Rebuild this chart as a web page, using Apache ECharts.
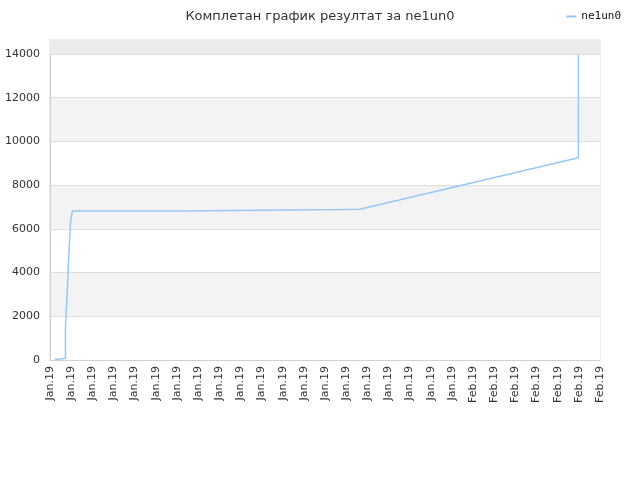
<!DOCTYPE html>
<html lang="sr">
<head>
    <meta charset="utf-8">
    <title>Комплетан график</title>
    <script src="https://cdn.jsdelivr.net/npm/echarts@6/dist/echarts.min.js"></script>
</head>
<body style="margin:0">
    <div id="chart" style="width:640px;height:480px"></div>
    <script type="text/javascript">
        // x labels (one per tick)
        var dayLabels = [
            'Jan.19', 'Jan.19', 'Jan.19', 'Jan.19', 'Jan.19', 'Jan.19', 'Jan.19',
            'Jan.19', 'Jan.19', 'Jan.19', 'Jan.19', 'Jan.19', 'Jan.19', 'Jan.19',
            'Jan.19', 'Jan.19', 'Jan.19', 'Jan.19', 'Jan.19', 'Jan.19',
            'Feb.19', 'Feb.19', 'Feb.19', 'Feb.19', 'Feb.19', 'Feb.19', 'Feb.19'
        ];
        // position along the x axis (in tick units) and score there;
        // repeated positions are the vertical jumps
        var pointPos = [0.24, 0.47, 0.47, 0.73, 0.73, 0.78, 0.78, 0.83, 0.83, 0.87, 0.87,
            0.92, 0.92, 0.97, 0.97, 1.06, 1.06, 6.18, 6.18, 13.84, 13.84, 14.65, 14.65,
            24.98, 24.98];
        var scores = [30, 30, 80, 80, 1460, 1460, 2430, 2430, 3430, 3430, 4440,
            4440, 5350, 5350, 6310, 6310, 6820, 6820, 6880, 6880, 6900, 6900, 6990,
            9250, 13950];

        var seriesData = [];
        for (var i = 0; i < pointPos.length; i++) {
            seriesData.push([pointPos[i], scores[i]]);
        }

        var myChart = echarts.init(document.getElementById('chart'));
        var option = {
            animation: false,
            title: {
                text: 'Комплетан график резултат за ne1un0',
                left: 'center',
                top: 5,
                textStyle: {
                    fontFamily: 'DejaVu Sans',
                    fontSize: 13,
                    fontWeight: 'normal',
                    color: '#333'
                }
            },
            legend: {
                right: 14,
                top: 6,
                icon: 'rect',
                itemWidth: 10,
                itemHeight: 2,
                itemGap: 5,
                textStyle: {
                    fontFamily: 'DejaVu Sans Mono',
                    fontSize: 11,
                    color: '#111'
                },
                data: ['ne1un0']
            },
            grid: {
                left: 50,
                right: 40,
                top: 40,
                bottom: 120,
                show: true,
                borderColor: '#dcdcdc',
                borderWidth: 1
            },
            xAxis: {
                type: 'value',
                min: 0,
                max: 26,
                interval: 1,
                axisLine: { show: true, lineStyle: { color: '#d0d0d0' } },
                axisTick: { show: false },
                splitLine: { show: false },
                axisLabel: {
                    rotate: 90,
                    fontFamily: 'DejaVu Sans',
                    fontSize: 11,
                    color: '#333',
                    margin: 6,
                    formatter: function (v) {
                        return dayLabels[Math.round(v)];
                    }
                }
            },
            yAxis: {
                type: 'value',
                min: 0,
                max: 14640,
                interval: 2000,
                axisLine: { show: true, lineStyle: { color: '#d0d0d0' } },
                axisTick: { show: false },
                splitLine: { show: true, lineStyle: { color: '#dedede' } },
                splitArea: { show: true, areaStyle: { color: ['#ffffff', '#f3f3f3'] } },
                axisLabel: {
                    fontFamily: 'DejaVu Sans',
                    fontSize: 11,
                    color: '#333',
                    margin: 10,
                    showMaxLabel: false,
                    formatter: function (v) {
                        return String(v);
                    }
                }
            },
            series: [{
                name: 'ne1un0',
                type: 'line',
                showSymbol: false,
                lineStyle: { color: '#98c8f5', width: 1.5 },
                itemStyle: { color: '#98c8f5' },
                markArea: {
                    silent: true,
                    itemStyle: { color: '#ececec' },
                    data: [[{ yAxis: 14000 }, { yAxis: 14640 }]]
                },
                data: seriesData
            }]
        };
        myChart.setOption(option);
    </script>
</body>
</html>
